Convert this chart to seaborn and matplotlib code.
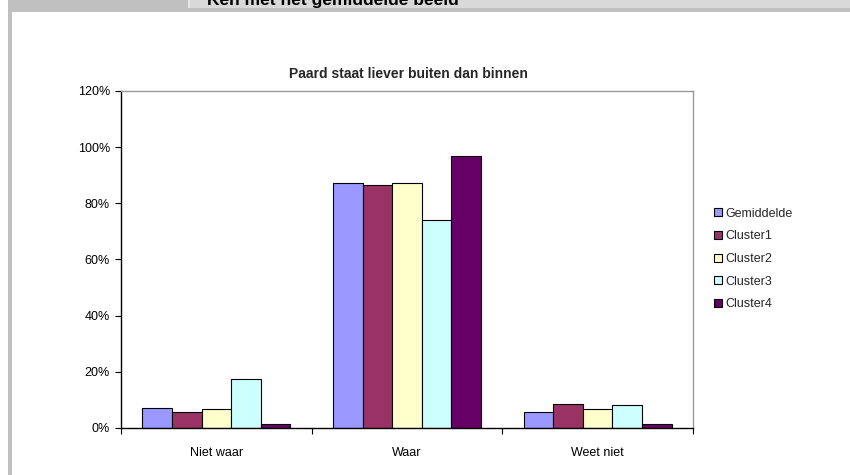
import matplotlib.pyplot as plt
import matplotlib.ticker as mticker
import pandas as pd
import seaborn as sns
from matplotlib.patches import Rectangle


CATEGORIES = ["Niet waar", "Waar", "Weet niet"]
SERIES = ["Gemiddelde", "Cluster1", "Cluster2", "Cluster3", "Cluster4"]
GEMIDDELDE = [0.071, 0.871, 0.058]
CLUSTER1 = [0.056, 0.867, 0.084]
CLUSTER2 = [0.066, 0.871, 0.066]
CLUSTER3 = [0.173, 0.742, 0.082]
CLUSTER4 = [0.015, 0.970, 0.015]
COLORS = ["#9999FF", "#993366", "#FFFFCC", "#CCFFFF", "#660066"]


def build_frame() -> pd.DataFrame:
    rows = []
    for name, values in zip(SERIES, [GEMIDDELDE, CLUSTER1, CLUSTER2, CLUSTER3, CLUSTER4]):
        for cat, val in zip(CATEGORIES, values):
            rows.append({"categorie": cat, "reeks": name, "waarde": val})
    return pd.DataFrame(rows)


def add_frame_decor(fig: plt.Figure) -> None:
    W, H = 850, 475

    def rect(x0, y0, w, h, color):
        # pixel coords measured from top-left
        fig.patches.append(
            Rectangle((x0 / W, 1 - (y0 + h) / H), w / W, h / H,
                      transform=fig.transFigure, facecolor=color,
                      edgecolor="none", zorder=0)
        )

    rect(8, 0, 842, 12, "#c0c0c0")
    rect(190, 0, 660, 8, "#d9d9d9")
    rect(188, 0, 2, 8, "#e6e6e6")
    rect(8, 0, 4, 475, "#c0c0c0")
    # banner heading, cropped at the top like the source screenshot
    fig.text(207 / W, 1 - 5 / H, "Ken met het gemiddelde beeld", fontsize=12.5,
             fontweight="bold", ha="left", va="baseline", color="black")


def main() -> None:
    sns.set_theme(style="white")
    plt.rcParams["font.family"] = ["Liberation Sans", "DejaVu Sans"]

    df = build_frame()
    fig = plt.figure(figsize=(8.5, 4.75), dpi=100)
    fig.patch.set_facecolor("white")
    add_frame_decor(fig)
    ax = fig.add_axes([121 / 850, 1 - 428 / 475, (693 - 121) / 850, (428 - 91) / 475])

    sns.barplot(
        data=df,
        x="categorie",
        y="waarde",
        hue="reeks",
        hue_order=SERIES,
        order=CATEGORIES,
        palette=COLORS,
        saturation=1,
        width=0.775,
        gap=0,
        edgecolor="black",
        linewidth=0.8,
        errorbar=None,
        ax=ax,
    )

    ax.set_ylim(0, 1.2)
    ax.set_xlim(-0.5, 2.5)
    ax.yaxis.set_major_locator(mticker.MultipleLocator(0.2))
    ax.yaxis.set_major_formatter(mticker.PercentFormatter(1.0, decimals=0))
    ax.set_xticks([0, 1, 2])
    ax.set_xticklabels(CATEGORIES)
    ax.xaxis.set_minor_locator(mticker.FixedLocator([-0.5, 0.5, 1.5, 2.5]))
    ax.tick_params(axis="x", which="major", length=0, pad=14, labelsize=9, colors="black")
    ax.tick_params(axis="x", which="minor", length=4, width=0.8, direction="out",
                   bottom=True, color="black")
    ax.tick_params(axis="y", length=4, width=0.8, direction="out", left=True,
                   labelsize=9, pad=4, colors="black")
    ax.set_xlabel("")
    ax.set_ylabel("")

    for side in ["left", "bottom"]:
        ax.spines[side].set_color("black")
        ax.spines[side].set_linewidth(1.0)
    for side in ["top", "right"]:
        ax.spines[side].set_color("#999999")
        ax.spines[side].set_linewidth(1.0)

    ax.set_title("Paard staat liever buiten dan binnen", fontsize=10,
                 fontweight="bold", pad=9)
    ax.title.set_position((0.502, 1.0))

    handles, labels = ax.get_legend_handles_labels()
    ax.get_legend().remove()
    fig.legend(
        handles,
        labels,
        loc="center left",
        bbox_to_anchor=(708 / 850, 1 - 259 / 475),
        frameon=False,
        fontsize=9,
        handlelength=0.6,
        handleheight=0.6,
        handletextpad=0.3,
        labelspacing=0.85,
        borderpad=0,
    )

    fig.savefig("out.png", dpi=100)
    plt.close(fig)


if __name__ == "__main__":
    main()
